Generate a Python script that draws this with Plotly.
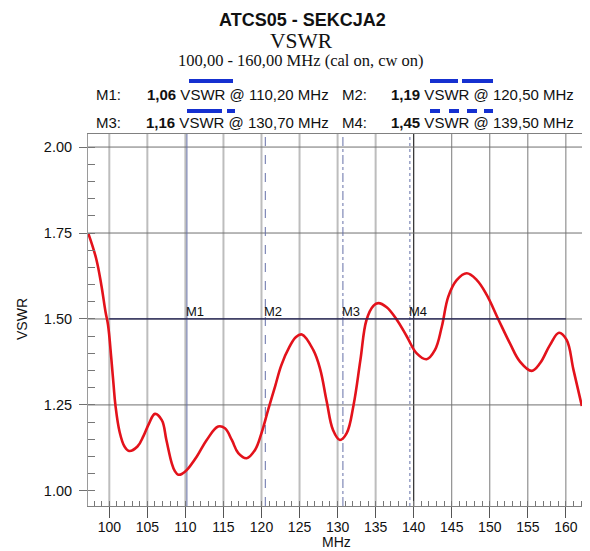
import plotly.graph_objects as go

# ---------------- data ----------------
freq_mhz = [97.24, 98.27, 98.95, 99.5, 99.83, 100.26, 100.56, 100.8, 101.35, 102.0,
            102.6, 103.7, 104.5, 105.2, 106.0, 106.9, 107.5, 108.2, 108.6, 109.07,
            109.6, 110.2, 111.5, 112.8, 114.3, 115.2, 116.1, 116.95, 118.05, 119.15,
            120.0, 120.9, 121.8, 122.6, 123.7, 124.5, 125.3, 126.8, 127.7, 128.57,
            129.4, 130.3, 131.2, 132.1, 133.0, 133.8, 134.7, 135.35, 136.45, 137.8,
            139.1, 140.4, 141.7, 142.8, 143.7, 144.55, 145.65, 146.97, 148.3, 149.6,
            151.1, 152.65, 153.97, 155.5, 156.6, 157.9, 159.1, 160.1, 161.0, 162.1]
vswr = [1.749, 1.676, 1.599, 1.521, 1.483, 1.386, 1.308, 1.25, 1.172, 1.129,
        1.116, 1.129, 1.16, 1.195, 1.224, 1.206, 1.148, 1.081, 1.058, 1.047,
        1.050, 1.061, 1.10, 1.148, 1.187, 1.182, 1.148, 1.110, 1.095, 1.119,
        1.168, 1.238, 1.305, 1.365, 1.42, 1.447, 1.455, 1.41, 1.355, 1.26,
        1.177, 1.148, 1.168, 1.25, 1.381, 1.497, 1.538, 1.546, 1.534, 1.497,
        1.449, 1.40, 1.383, 1.41, 1.478, 1.565, 1.613, 1.633, 1.613, 1.57,
        1.50, 1.429, 1.376, 1.349, 1.371, 1.424, 1.46, 1.439, 1.352, 1.247]

limit_freq = [100, 160]
limit_vswr = [1.5, 1.5]

marker_names = ["M1", "M2", "M3", "M4"]
marker_freqs = [110.2, 120.5, 130.7, 139.5]
marker_vals = [1.06, 1.19, 1.16, 1.45]
marker_freq_text = ["110,20", "120,50", "130,70", "139,50"]
marker_val_text = ["1,06", "1,19", "1,16", "1,45"]
marker_dash = ["solid", "dash", "dashdot", "dot"]

x_ticks = [100, 105, 110, 115, 120, 125, 130, 135, 140, 145, 150, 155, 160]
y_ticks = [1.00, 1.25, 1.50, 1.75, 2.00]
y_tick_text = ["1.00", "1.25", "1.50", "1.75", "2.00"]
y_grid = [1.25, 1.50, 1.75, 2.00]

X_RANGE = [97.2, 162.12]
Y_RANGE = [0.956, 2.038]

# ---------------- geometry (page pixels; the page body adds an 8px offset) ----------------
OFF = 8
W, H = 590 - OFF, 551 - OFF
PL, PR, PT, PB = 88, 582, 134, 506          # plot area in page pixels
L, R, T, B = PL - OFF, (W + OFF) - PR, PT - OFF, (H + OFF) - PB
PW, PH = PR - PL, PB - PT


def px(xp):
    return (xp - PL) / PW


def py(yp):
    return (PB - yp) / PH


SANS = "Liberation Sans, Arial, sans-serif"
SERIF = "Liberation Serif, Times New Roman, serif"

fig = go.Figure()

fig.add_trace(go.Scatter(x=freq_mhz, y=vswr, mode="lines",
                         line=dict(color="#e3121b", width=2.6, shape="spline", smoothing=1.1),
                         hoverinfo="skip", showlegend=False))
fig.add_trace(go.Scatter(x=limit_freq, y=limit_vswr, mode="lines",
                         line=dict(color="#1c1c50", width=1.3),
                         hoverinfo="skip", showlegend=False))

shapes = []
for t in x_ticks:
    if t < 140:
        col, wd = "#bdbdbd", 2
    elif t == 140:
        col, wd = "#2a2a2a", 1.2
    else:
        col, wd = "#7a7a7a", 1
    shapes.append(dict(type="line", xref="x", yref="paper", x0=t, x1=t, y0=0, y1=1,
                       line=dict(color=col, width=wd), layer="below"))
for v in y_grid:
    shapes.append(dict(type="line", xref="paper", yref="y", x0=0, x1=1, y0=v, y1=v,
                       line=dict(color="#707070", width=1), layer="below"))
for f, d in zip(marker_freqs, marker_dash):
    shapes.append(dict(type="line", xref="x", yref="paper", x0=f, x1=f, y0=0, y1=1,
                       line=dict(color="#6470a8", width=1, dash=d), layer="below"))

BLUE = "#1530d0"
sample_segments = [
    (189, 233, 81), (430, 458, 81), (462, 493, 81),
    (187, 222, 111), (227, 235, 111),
    (430, 440, 111), (449, 459, 111), (467, 477, 111), (484, 493, 111),
]
for x0, x1, yy in sample_segments:
    shapes.append(dict(type="line", xref="paper", yref="paper",
                       x0=px(x0), x1=px(x1), y0=py(yy), y1=py(yy),
                       line=dict(color=BLUE, width=4)))

annotations = []
annotations.append(dict(text="<b>ATCS05 - SEKCJA2</b>", x=px(302), y=py(20), xref="paper", yref="paper",
                         showarrow=False, font=dict(family=SANS, size=18, color="#111"),
                         xanchor="center", yanchor="middle"))
annotations.append(dict(text="VSWR", x=px(301), y=py(41), xref="paper", yref="paper",
                        showarrow=False, font=dict(family=SERIF, size=21.5, color="#111"),
                        xanchor="center", yanchor="middle"))
annotations.append(dict(text="100,00 - 160,00 MHz (cal on, cw on)", x=px(301), y=py(61),
                        xref="paper", yref="paper", showarrow=False,
                        font=dict(family=SERIF, size=16.5, color="#111"),
                        xanchor="center", yanchor="middle"))
rows_y = [94, 94, 122, 122]
name_x = [94, 340, 94, 340]
right_x = [331, 576, 331, 576]
for i in range(4):
    annotations.append(dict(text=marker_names[i] + ":", x=px(name_x[i]), y=py(rows_y[i]),
                            xref="paper", yref="paper", showarrow=False,
                            font=dict(family=SANS, size=15, color="#111"),
                            xanchor="left", yanchor="middle"))
    annotations.append(dict(text="<b>" + marker_val_text[i] + "</b> VSWR @ " + marker_freq_text[i] + " MHz",
                            x=px(right_x[i]), y=py(rows_y[i]),
                            xref="paper", yref="paper", showarrow=False,
                            font=dict(family=SANS, size=15, color="#111"),
                            xanchor="right", yanchor="middle"))
for name, f in zip(marker_names, marker_freqs):
    annotations.append(dict(text=name, x=f, y=1.5, xref="x", yref="y", showarrow=False,
                            font=dict(family=SANS, size=13, color="#111"),
                            xanchor="left", yanchor="bottom", xshift=-3, yshift=-2))
annotations.append(dict(text="MHz", x=px(336), y=py(542), xref="paper", yref="paper",
                        showarrow=False, font=dict(family=SANS, size=14, color="#111"),
                        xanchor="center", yanchor="middle"))
annotations.append(dict(text="VSWR", x=px(22), y=py(319), xref="paper", yref="paper",
                        showarrow=False, textangle=-90,
                        font=dict(family=SANS, size=14, color="#111"),
                        xanchor="center", yanchor="middle"))

fig.update_layout(
    width=W, height=H,
    margin=dict(l=L, r=R, t=T, b=B, pad=0, autoexpand=False),
    paper_bgcolor="white", plot_bgcolor="white",
    shapes=shapes, annotations=annotations,
    showlegend=False,
    xaxis=dict(range=X_RANGE, tickvals=x_ticks, ticktext=[str(t) for t in x_ticks],
               showgrid=False, zeroline=False,
               ticks="outside", ticklen=11, tickcolor="#555", tickwidth=1,
               showline=True, linecolor="#808080", linewidth=1, mirror=True,
               tickfont=dict(family=SANS, size=14, color="#111"),
               ticklabelstandoff=-3,
               minor=dict(dtick=1, tick0=100, ticks="inside", ticklen=5, tickcolor="#777", showgrid=False)),
    yaxis=dict(range=Y_RANGE, tickvals=y_ticks, ticktext=y_tick_text,
               showgrid=False, zeroline=False,
               ticks="outside", ticklen=8, tickcolor="#707070", tickwidth=1,
               showline=True, linecolor="#9a9a9a", linewidth=1, mirror=True,
               tickfont=dict(family=SANS, size=14.5, color="#111"),
               ticklabelstandoff=4,
               minor=dict(dtick=0.05, tick0=1.0, ticks="inside", ticklen=7, tickcolor="#777", showgrid=False)),
)

fig.write_html("out.html")
